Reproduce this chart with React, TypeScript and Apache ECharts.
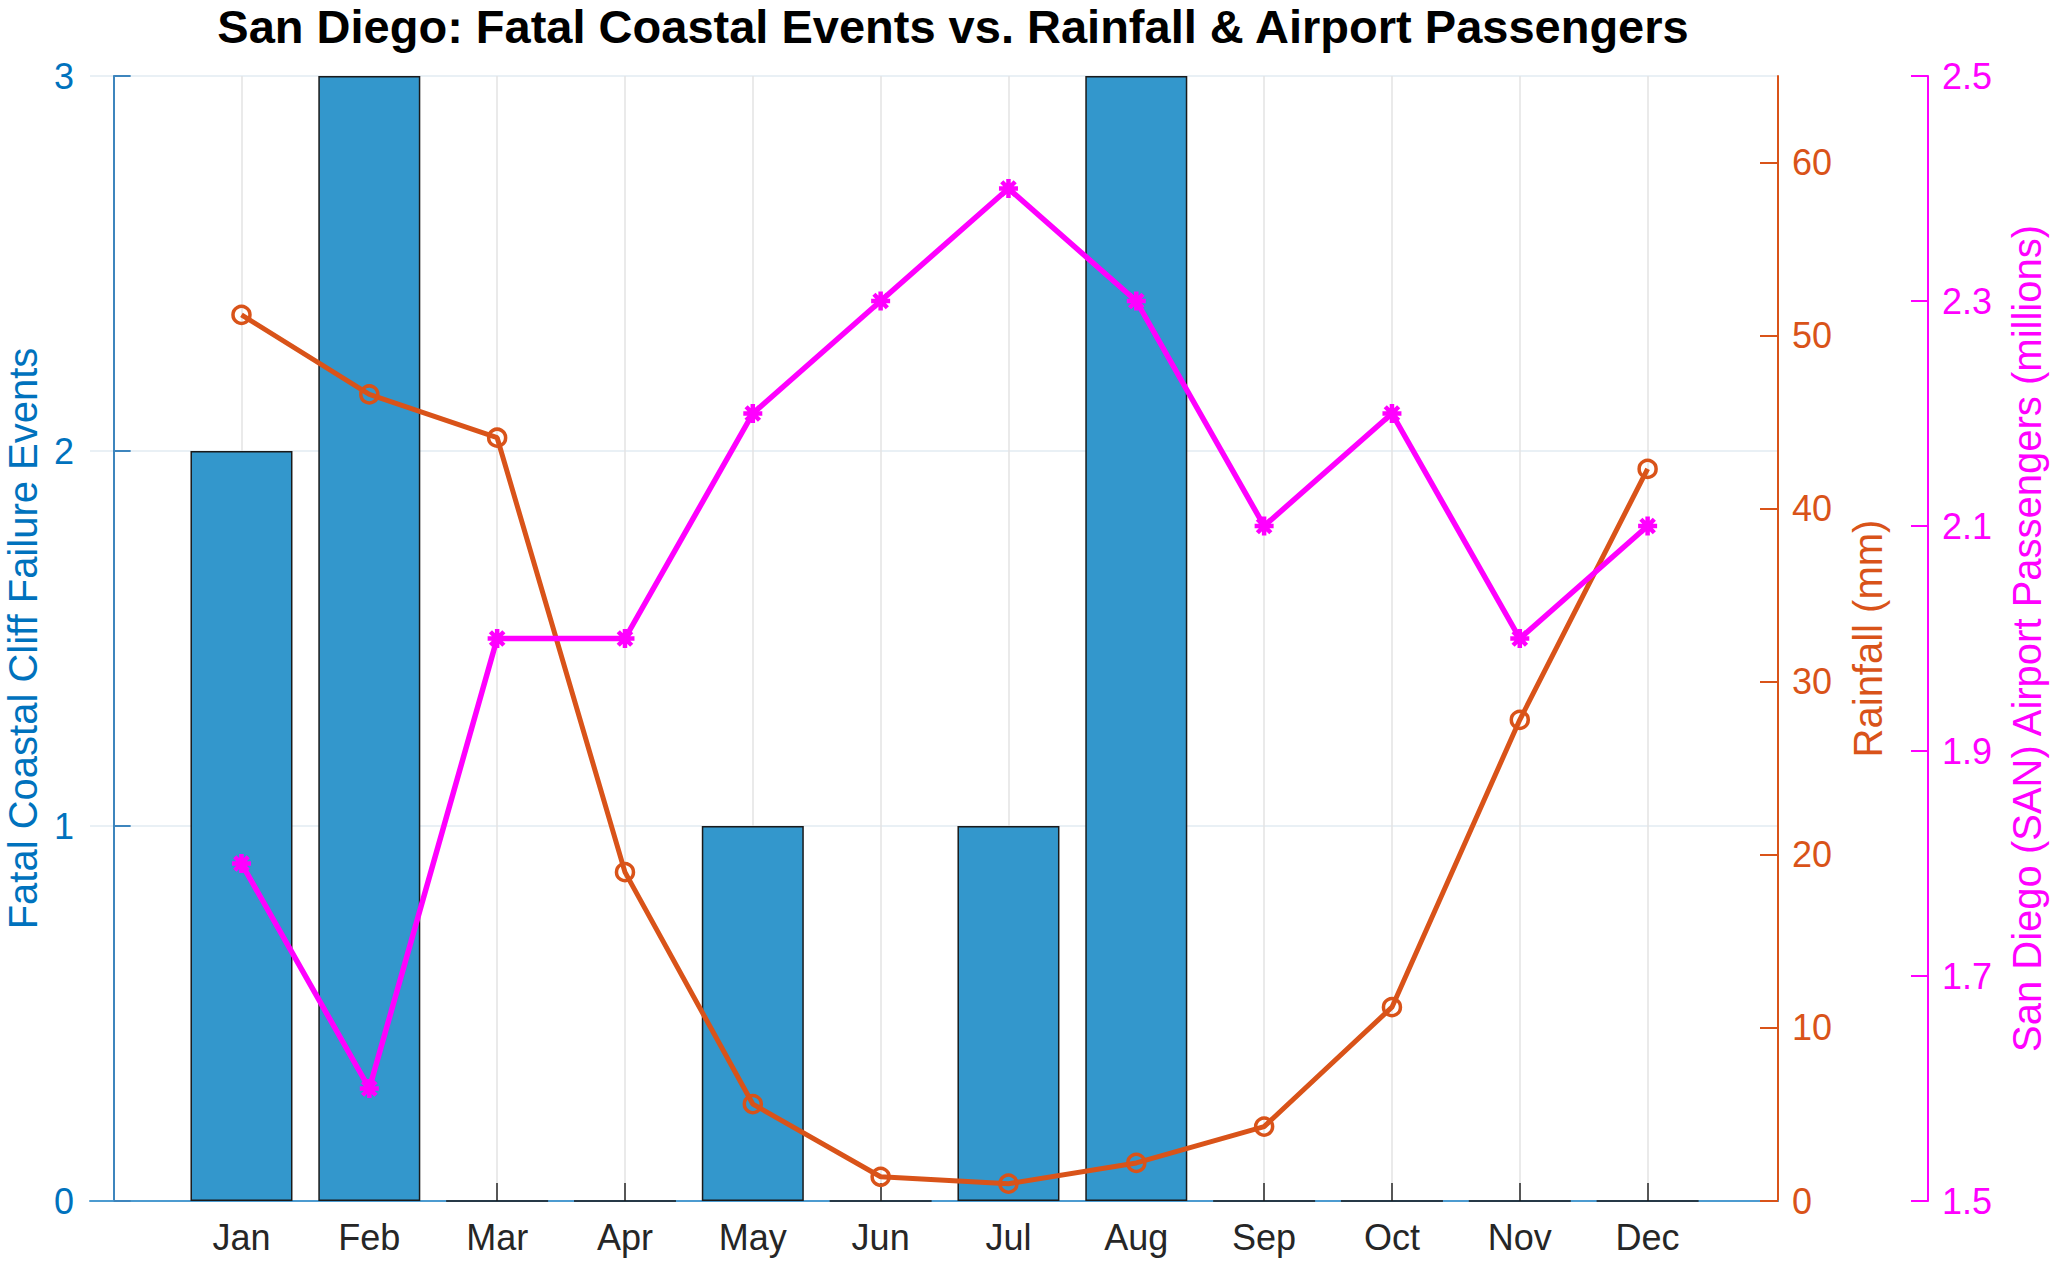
import React, { useEffect, useRef } from "react";
import * as echarts from "echarts";

const months = ["Jan", "Feb", "Mar", "Apr", "May", "Jun", "Jul", "Aug", "Sep", "Oct", "Nov", "Dec"];
const monthPositions = [1, 2, 3, 4, 5, 6, 7, 8, 9, 10, 11, 12];
const fatalEvents = [2, 3, 0, 0, 1, 0, 1, 3, 0, 0, 0, 0];
const rainfallMm = [51.2, 46.6, 44.1, 19.0, 5.6, 1.4, 1.0, 2.2, 4.3, 11.2, 27.8, 42.3];
const passengersM = [1.8, 1.6, 2.0, 2.0, 2.2, 2.3, 2.4, 2.3, 2.1, 2.2, 2.0, 2.1];
const rainfallTicks = [0, 10, 20, 30, 40, 50, 60];

const titleText = "San Diego: Fatal Coastal Events vs. Rainfall & Airport Passengers";
const leftName = "Fatal Coastal Cliff Failure Events";
const rainName = "Rainfall (mm)";
const paxName = "San Diego (SAN) Airport Passengers (millions)";

const FONT = "'Liberation Sans', Arial, Helvetica, sans-serif";
const BLUE = "#0072BD";
const ORANGE = "#D95319";
const MAGENTA = "#FF00FF";

const asterisk =
  "path://M0,-10L0,10M-10,0L10,0M-7.07,-7.07L7.07,7.07M-7.07,7.07L7.07,-7.07";

export default function App() {
  const ref = useRef<HTMLDivElement>(null);
  useEffect(() => {
    if (!ref.current) return;
    const chart = echarts.init(ref.current, null, { renderer: "svg" });
    const pairs = (vals: number[]) => monthPositions.map((x, i) => [x, vals[i]]);
    chart.setOption({
      animation: false,
      backgroundColor: "#ffffff",
      textStyle: { fontFamily: FONT },
      title: {
        text: titleText,
        left: 948,
        top: -2,
        textAlign: "center",
        textStyle: { fontFamily: FONT, fontWeight: "bold", fontSize: 47, color: "#000000" },
      },
      grid: {
        left: 90,
        right: 289,
        top: 76,
        bottom: 66,
        containLabel: false,
        outerBoundsMode: "none",
      },
      xAxis: {
        type: "value",
        min: -0.185,
        max: 13.02,
        axisLine: { show: true, onZero: false, lineStyle: { color: "#4c9bd0", width: 2 } },
        axisTick: {
          show: true,
          inside: true,
          length: 18,
          customValues: monthPositions,
          lineStyle: { color: "#262626", width: 1.5 },
        },
        axisLabel: {
          customValues: monthPositions,
          formatter: (v: number) => months[Math.round(v) - 1] ?? "",
          color: "#262626",
          fontSize: 36,
          fontFamily: FONT,
          margin: 18,
        },
        splitLine: { show: true, lineStyle: { color: "#e3e3e3", width: 1.5 } },
      },
      yAxis: [
        {
          type: "value",
          position: "left",
          min: 0,
          max: 3,
          interval: 1,
          name: leftName,
          nameLocation: "middle",
          nameRotate: 90,
          nameGap: 28,
          nameTextStyle: { color: BLUE, fontSize: 40, fontFamily: FONT },
          axisLine: { show: true, lineStyle: { color: "#3d85bd", width: 2 } },
          axisTick: { show: true, inside: true, length: 17, lineStyle: { color: "#3d85bd", width: 2 } },
          axisLabel: { color: BLUE, fontSize: 36, fontFamily: FONT, margin: 16 },
          splitLine: { show: true, lineStyle: { color: "#e2ebf2", width: 1.5 } },
        },
        {
          type: "value",
          position: "right",
          min: 0,
          max: 65,
          interval: 10,
          name: rainName,
          nameLocation: "middle",
          nameRotate: 90,
          nameGap: 70,
          nameTextStyle: { color: ORANGE, fontSize: 40, fontFamily: FONT },
          axisLine: { show: true, lineStyle: { color: ORANGE, width: 2 } },
          axisTick: {
            show: true,
            inside: true,
            length: 18,
            customValues: rainfallTicks,
            lineStyle: { color: ORANGE, width: 2 },
          },
          axisLabel: {
            customValues: rainfallTicks,
            color: ORANGE,
            fontSize: 36,
            fontFamily: FONT,
            margin: 14,
          },
          splitLine: { show: false },
        },
        {
          type: "value",
          position: "right",
          offset: 150,
          min: 1.5,
          max: 2.5,
          interval: 0.2,
          name: paxName,
          nameLocation: "middle",
          nameRotate: 90,
          nameGap: 79,
          nameTextStyle: { color: MAGENTA, fontSize: 40, fontFamily: FONT },
          axisLine: { show: true, lineStyle: { color: MAGENTA, width: 2 } },
          axisTick: { show: true, inside: true, length: 17, lineStyle: { color: MAGENTA, width: 2 } },
          axisLabel: {
            color: MAGENTA,
            fontSize: 36,
            fontFamily: FONT,
            margin: 14,
            formatter: (v: number) => v.toFixed(1),
          },
          splitLine: { show: false },
        },
      ],
      series: [
        {
          type: "bar",
          name: "Fatal events",
          xAxisIndex: 0,
          yAxisIndex: 0,
          data: pairs(fatalEvents),
          barWidth: 102,
          itemStyle: { color: "#3397CC", borderColor: "#1a1a1a", borderWidth: 1.5 },
          z: 2,
        },
        {
          type: "line",
          name: "Rainfall",
          xAxisIndex: 0,
          yAxisIndex: 1,
          data: pairs(rainfallMm),
          lineStyle: { color: ORANGE, width: 5 },
          symbol: "circle",
          symbolSize: 17,
          itemStyle: { color: "rgba(255,255,255,0)", borderColor: ORANGE, borderWidth: 3.5 },
          z: 3,
        },
        {
          type: "line",
          name: "Passengers",
          xAxisIndex: 0,
          yAxisIndex: 2,
          data: pairs(passengersM),
          lineStyle: { color: MAGENTA, width: 5.5 },
          symbol: asterisk,
          symbolSize: 19,
          itemStyle: { color: MAGENTA, borderColor: MAGENTA, borderWidth: 4.5 },
          z: 4,
        },
      ],
    });
    return () => chart.dispose();
  }, []);
  return (
    <div
      ref={ref}
      style={{ position: "fixed", left: 0, top: 0, width: 2067, height: 1267, background: "#fff" }}
    />
  );
}
